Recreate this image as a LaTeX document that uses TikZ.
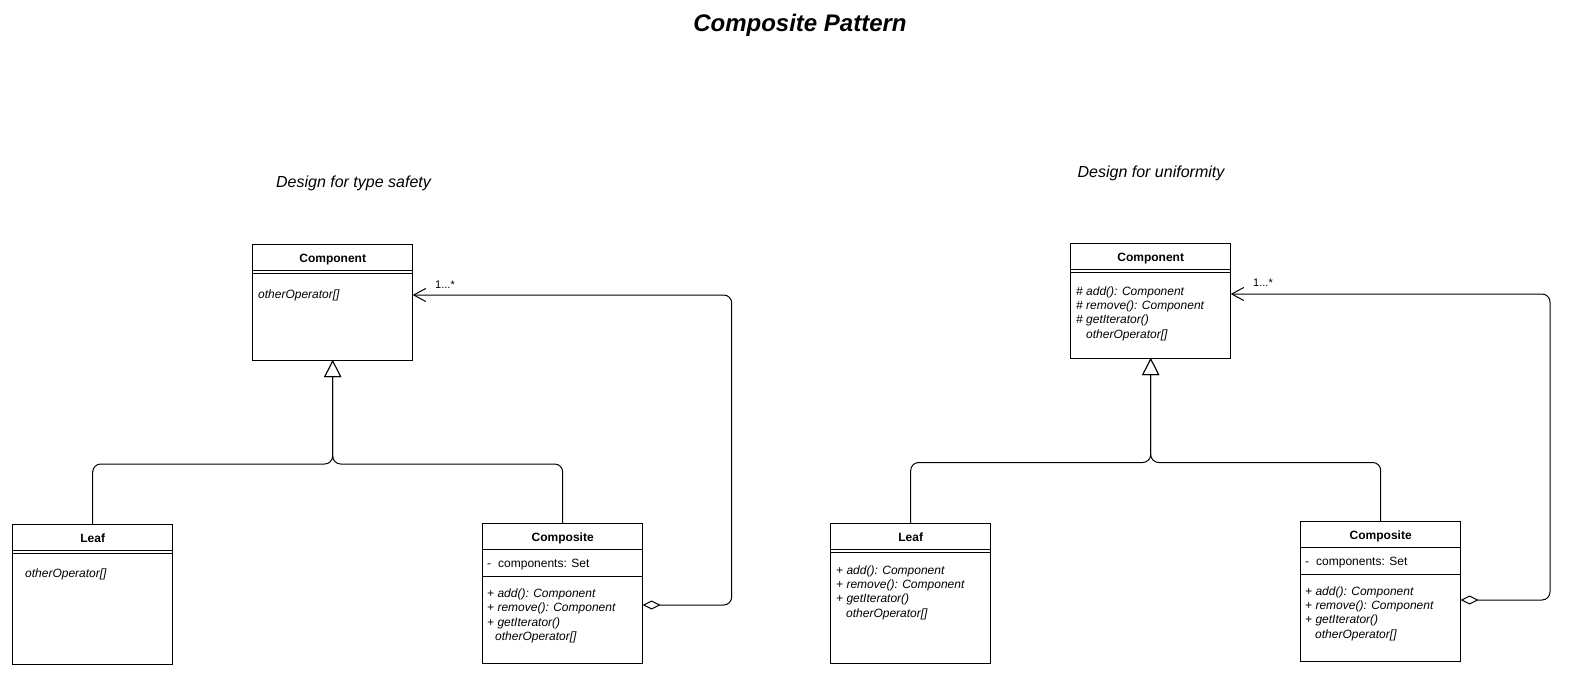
\documentclass[tikz,border=0pt]{standalone}
\usepackage{fontspec}
\setmainfont{Liberation Sans}
\usetikzlibrary{positioning, arrows.meta}

\tikzset{
  classhead/.style={draw, line width=1pt, outer sep=0pt, inner sep=0pt, minimum width=160pt, minimum height=26pt, text height=10pt, text depth=0pt, font=\fontsize{12}{14}\selectfont\bfseries},
  classbody/.style={draw, line width=1pt, outer sep=0pt, inner sep=0pt, minimum width=160pt},
  sepline/.style={line width=1pt},
  member/.style={anchor=base west, inner sep=0pt, align=left, font=\fontsize{12}{14.4}\selectfont\itshape},
  attrib/.style={anchor=base west, inner sep=0pt, font=\fontsize{12}{14.4}\selectfont},
  inherit/.style={line width=1pt, rounded corners=8pt, -{Triangle[open, length=17pt, width=17pt, fill=white]}},
  aggr/.style={line width=1pt, rounded corners=8pt, {Diamond[open, length=18pt, width=9pt, fill=white]}-{Straight Barb[length=12pt, width=13pt]}},
  mult/.style={inner sep=0pt, font=\fontsize{11}{13}\selectfont},
  subtitle/.style={inner sep=0pt, font=\fontsize{16}{19}\selectfont\itshape}
}

\begin{document}
\begin{tikzpicture}[x=1pt, y=-1pt]
  \useasboundingbox (0,0) rectangle (1580,680);

  \node[inner sep=0pt, font=\fontsize{24}{28}\selectfont\bfseries\itshape] (title) at (800,25) {Composite Pattern};
  \node[subtitle] (lsub) at (353.5,183) {Design for type safety};
  \node[subtitle] (rsub) at (1151,173) {Design for uniformity};

  % type safety
  \node[classhead] (lcomp) at (332.7,257) {Component};
  \node[classbody, minimum height=90pt, below=0pt of lcomp] (lcompbody) {};
  \node[member] (lcompops) at (258,298) {otherOperator[]};

  \node[classhead] (lleaf) at (92.7,537) {Leaf};
  \node[classbody, minimum height=114pt, below=0pt of lleaf] (lleafbody) {};
  \node[member] (lleafops) at (25,577) {otherOperator[]};

  \node[classhead] (lcompo) at (562.7,536) {Composite};
  \node[classbody, minimum height=27pt, below=0pt of lcompo] (lcompoattr) {};
  \node[classbody, minimum height=87pt, below=0pt of lcompoattr] (lcompoops) {};
  \node[attrib] (lcompoattrtext) at (487,567) {-\hspace{7pt}components: Set};
  \node[member] (lcompoopstext) at (487,640.7) {+ add(): Component\\+ remove(): Component\\+ getIterator()\\\hspace{8pt}otherOperator[]};

  % uniformity
  \node[classhead] (rcomp) at (1150.7,256) {Component};
  \node[classbody, minimum height=89pt, below=0pt of rcomp] (rcompbody) {};
  \node[member] (rcompops) at (1076,338.2) {\# add(): Component\\\# remove(): Component\\\# getIterator()\\\hspace{10pt}otherOperator[]};

  \node[classhead] (rleaf) at (910.7,536) {Leaf};
  \node[classbody, minimum height=114pt, below=0pt of rleaf] (rleafbody) {};
  \node[member] (rleafops) at (836,617.2) {+ add(): Component\\+ remove(): Component\\+ getIterator()\\\hspace{10pt}otherOperator[]};

  \node[classhead] (rcompo) at (1380.7,534) {Composite};
  \node[classbody, minimum height=27pt, below=0pt of rcompo] (rcompoattr) {};
  \node[classbody, minimum height=87pt, below=0pt of rcompoattr] (rcompoops) {};
  \node[attrib] (rcompoattrtext) at (1305,565) {-\hspace{7pt}components: Set};
  \node[member] (rcompoopstext) at (1305,638.2) {+ add(): Component\\+ remove(): Component\\+ getIterator()\\\hspace{10pt}otherOperator[]};

  \foreach \b in {lcompbody, lleafbody, rcompbody, rleafbody}
    \draw[sepline] ([yshift=-3pt]\b.north west) -- ([yshift=-3pt]\b.north east);

  % generalization
  \coordinate (ljoin) at (332.7,464);
  \coordinate (rjoin) at (1150.7,462.5);
  \draw[inherit] (lleaf.north) |- (ljoin) -- (lcompbody.south);
  \draw[inherit] (lcompo.north) |- (ljoin) -- (lcompbody.south);
  \draw[inherit] (rleaf.north) |- (rjoin) -- (rcompbody.south);
  \draw[inherit] (rcompo.north) |- (rjoin) -- (rcompbody.south);

  % aggregation
  \draw[aggr] ([yshift=14.5pt]lcompoops.east) -- ++(89pt,0) |- ([yshift=20pt]lcompbody.east);
  \draw[aggr] ([yshift=17.5pt]rcompoops.east) -- ++(89.3pt,0) |- ([yshift=19.5pt]rcompbody.east);
  \node[mult] (lmult) at (445,285) {1...*};
  \node[mult] (rmult) at (1263,283) {1...*};
\end{tikzpicture}
\end{document}
